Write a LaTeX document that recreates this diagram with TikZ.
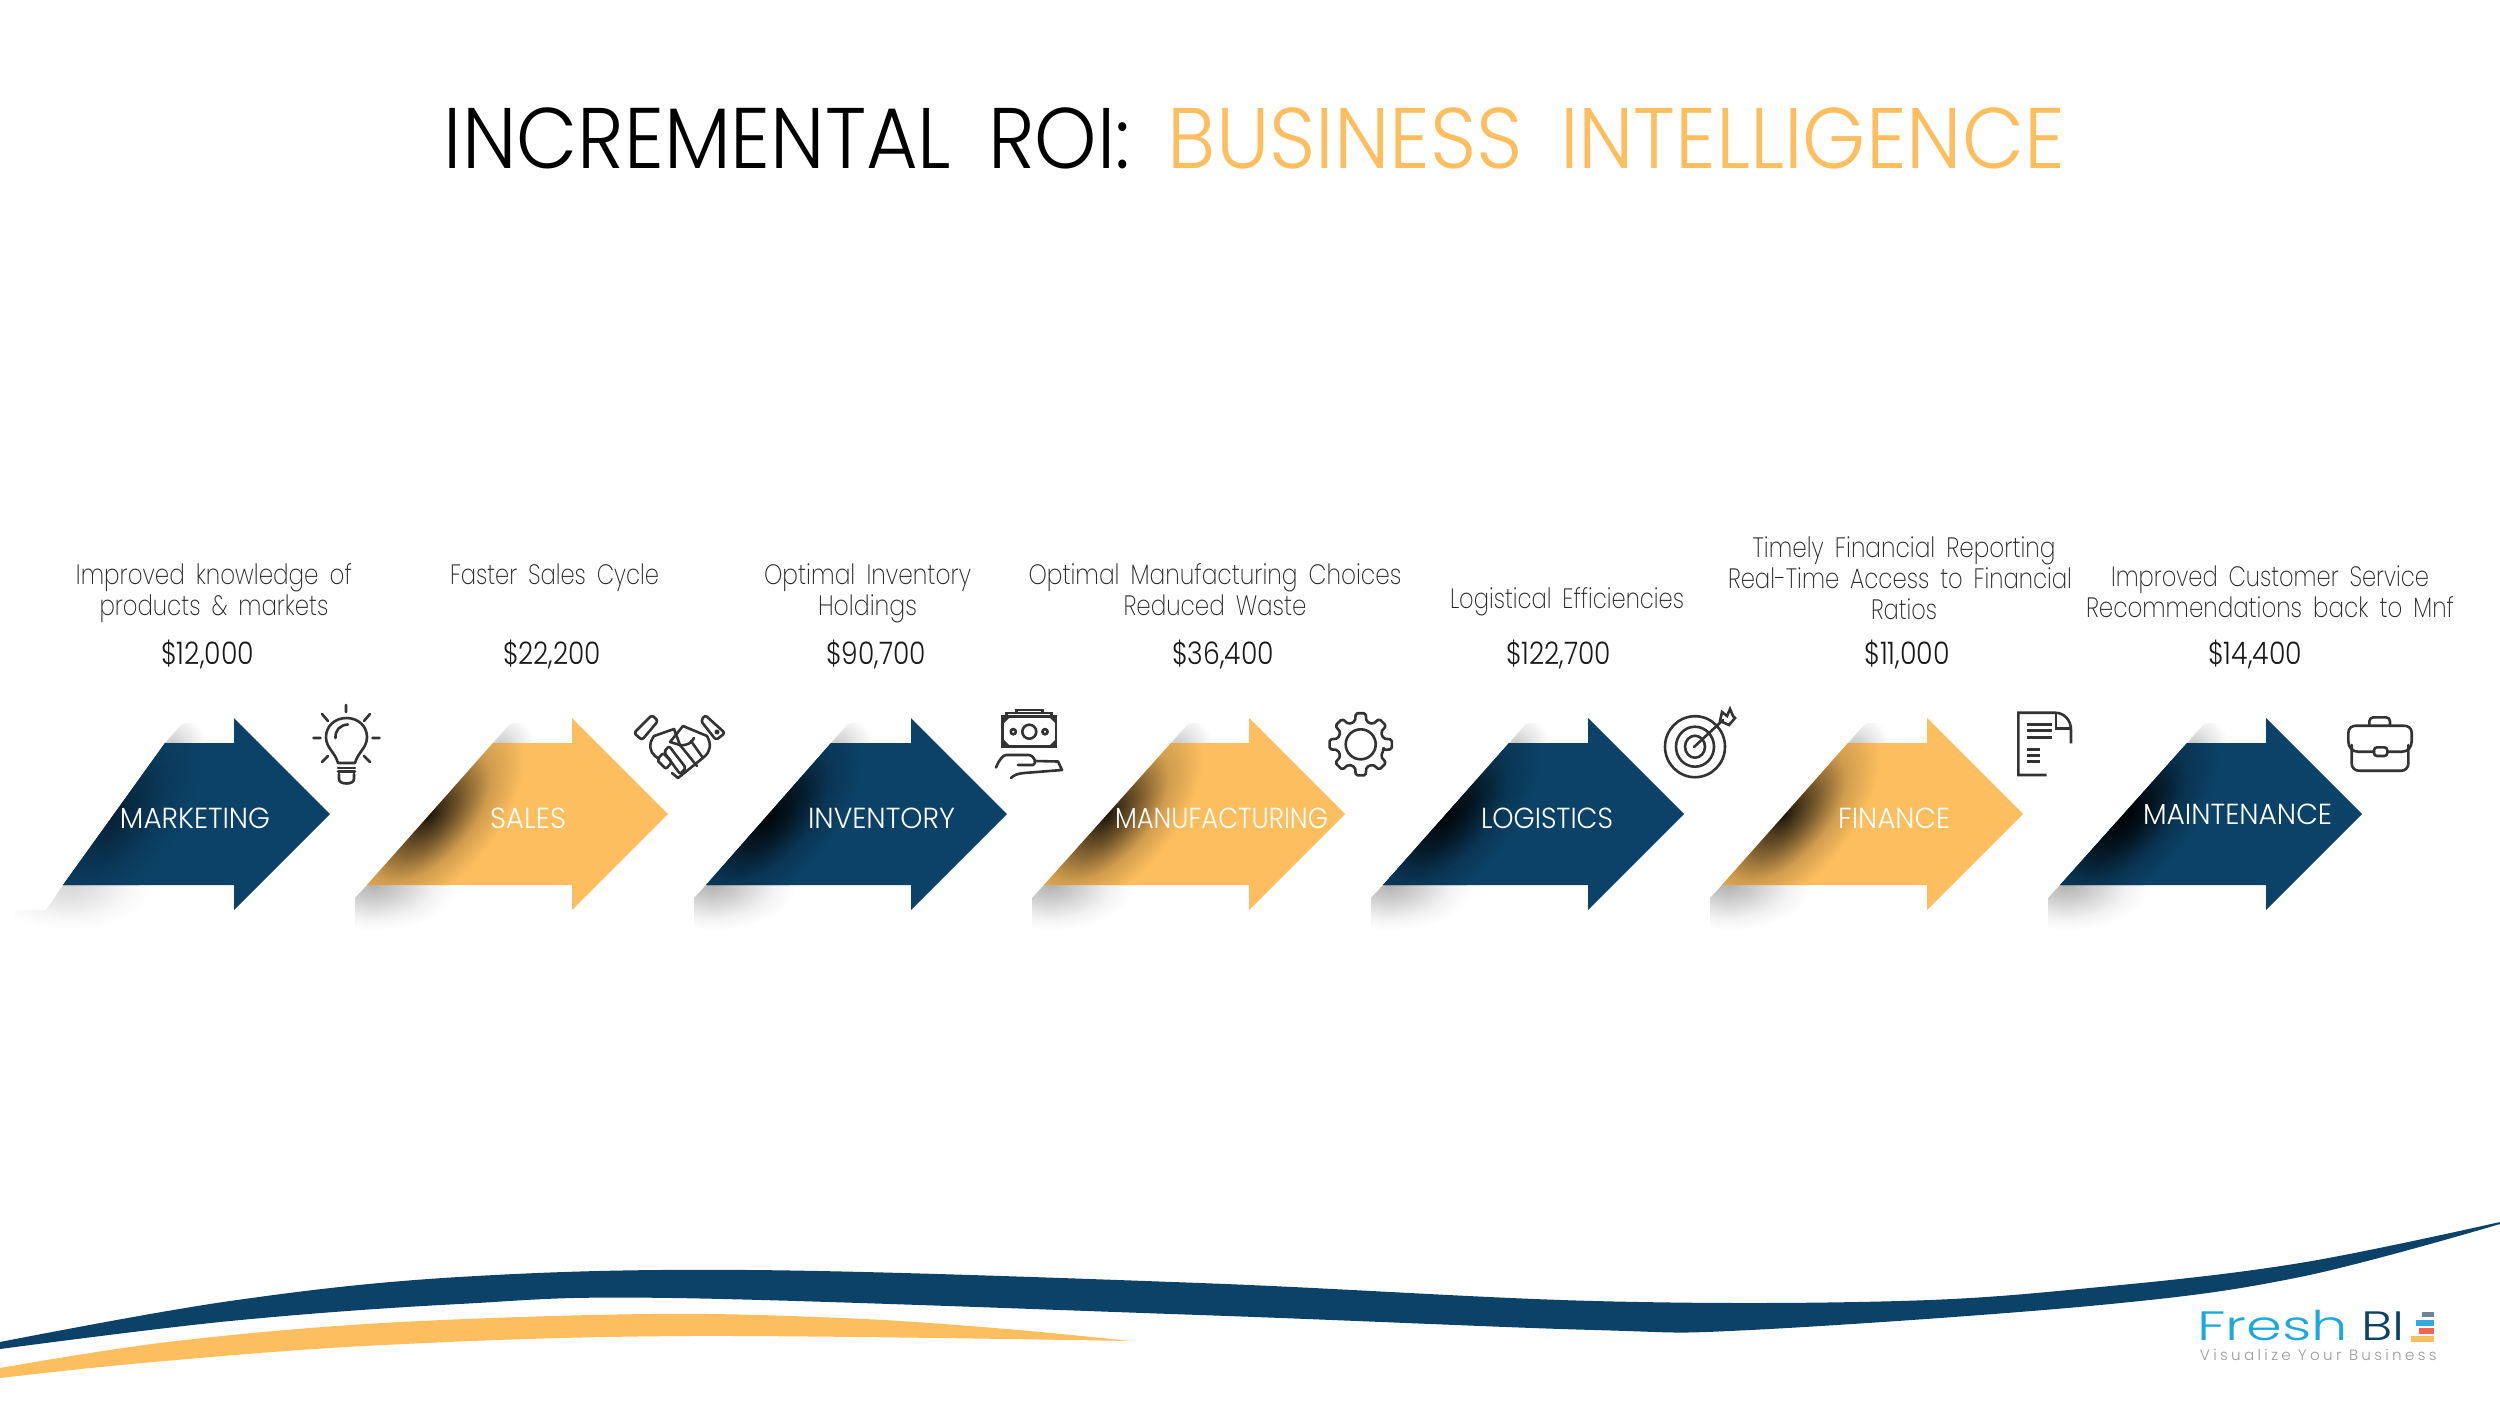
\documentclass[tikz,border=0pt]{standalone}
\usepackage{fontspec}
\usepackage{graphicx}
\newfontfamily\thinf[UprightFont=* ExtraLight,WordSpace=1.7]{Poppins}
\newfontfamily\lightf[UprightFont=* Light]{Poppins}
\newfontfamily\titlef[UprightFont=* Light,WordSpace=1.7]{Poppins}
\definecolor{navy}{HTML}{0C4268}
\definecolor{gold}{HTML}{FDBE5F}
\definecolor{ink}{HTML}{333333}
\definecolor{logoblue}{HTML}{1CA8DD}
\definecolor{tagc}{HTML}{9A9A9A}
\definecolor{slatec}{HTML}{6E8396}
\definecolor{barblue}{HTML}{31A9E0}
\definecolor{coral}{HTML}{F26350}
\newcommand\mkshade[5]{\pgfdeclareradialshading{#1}{\pgfpointorigin}{color(0bp)=(black!#3!#2); color(8bp)=(black!#4!#2); color(16bp)=(black!#5!#2); color(25bp)=(#2); color(50bp)=(#2)}}
\mkshade{navyW}{navy}{50}{30}{10}
\mkshade{navyS}{navy}{95}{62}{20}
\mkshade{navyX}{navy}{100}{70}{24}
\mkshade{goldS}{gold}{88}{55}{18}
\pgfdeclareradialshading{softgray}{\pgfpointorigin}{color(0bp)=(black!30); color(9bp)=(black!18); color(18bp)=(black!5); color(25bp)=(white); color(50bp)=(white)}
\pgfdeclareradialshading{softgrayW}{\pgfpointorigin}{color(0bp)=(black!16); color(9bp)=(black!10); color(18bp)=(black!3); color(25bp)=(white); color(50bp)=(white)}
\pgfdeclareradialshading{softtop}{\pgfpointorigin}{color(0bp)=(black!24); color(12bp)=(black!11); color(25bp)=(white); color(50bp)=(white)}
\newcommand\fl[2]{\resizebox{#1pt}{\height}{#2}}
% #1 BL x, #2 TL x, #3 notch x, #4 tip x, #5 fill, #6 shading, #7 left side of the lower shadow, #8 its shading
\newcommand\flowarrow[8]{%
  \pgfmathsetmacro\ang{atan2(142,#2-#1)}%
  \pgfmathsetmacro\ecx{#1+0.49*(#2-#1)}%
  \begin{scope}
    \clip (#2,743) -- (#2+16,725) .. controls (#2+18,723) and (#2+22,723) .. (#2+25,723) -- (#2+42,723) -- (#2+42,743) -- cycle;
    \shade[shading=softtop] (#2+6,748) circle (36pt);
  \end{scope}
  \begin{scope}
    \clip (#1,885) -- #7 -- (#1+110,932) -- (#1+110,885) -- cycle;
    \shade[shading=#8] (#1+6,885) ellipse (84pt and 46pt);
  \end{scope}
  \fill[#5] (#1,885) -- (#2,743) -- (#3,743) -- (#3,718) -- (#4,814) -- (#3,910) -- (#3,885) -- cycle;
  \begin{scope}
    \clip (#1,885) -- (#2,743) -- (#3,743) -- (#3,718) -- (#4,814) -- (#3,910) -- (#3,885) -- cycle;
    \begin{scope}[transform canvas={shift={(\ecx,815)},rotate=\ang}]
      \shade[shading=#6] (0,0) ellipse (125pt and 66pt);
    \end{scope}
  \end{scope}
}
\newcommand\stdside[1]{(#1-12,898) -- (#1-12,932)}
\tikzset{
  body/.style={font=\thinf\fontsize{28}{31}\selectfont, text=black!85, align=center, inner sep=0pt, anchor=base},
  price/.style={font=\lightf\fontsize{31}{34}\selectfont, text=black!90, inner sep=0pt, anchor=base},
  lab/.style={font=\lightf\fontsize{29}{32}\selectfont, text=white, inner sep=0pt, anchor=base},
  icon/.style={draw=ink, line width=2.6pt, line cap=round, line join=round},
}
\begin{document}
\begin{tikzpicture}[x=1pt,y=-1pt]
\useasboundingbox (0,0) rectangle (2500,1406);
\fill[white] (0,0) rectangle (2500,1406);
% title
\node[inner sep=0pt, anchor=base, font=\titlef\fontsize{86}{90}\selectfont] (title) at (1254.5,168)
  {\fl{686}{INCREMENTAL ROI:}\hspace{38pt}\textcolor{gold}{\fl{897}{BUSINESS INTELLIGENCE}}};
% arrows
\flowarrow{63}{165}{234}{330}{navy}{navyW}{(46,910) -- (15,910) -- (15,932)}{softgrayW}
\flowarrow{367}{493}{572}{668}{gold}{goldS}{(355,898) -- (355,932)}{softgray}
\flowarrow{706}{831}{911}{1007}{navy}{navyS}{(694,898) -- (694,932)}{softgray}
\flowarrow{1044}{1171}{1249}{1345}{gold}{goldS}{(1032,898) -- (1032,932)}{softgray}
\flowarrow{1383}{1509}{1588}{1684}{navy}{navyS}{(1371,898) -- (1371,932)}{softgray}
\flowarrow{1722}{1848}{1927}{2023}{gold}{goldS}{(1710,898) -- (1710,932)}{softgray}
\flowarrow{2060}{2187}{2266}{2362}{navy}{navyX}{(2048,898) -- (2048,932)}{softgray}
% arrow labels
\node[lab] (l1) at (195,828) {\fl{150}{MARKETING}};
\node[lab] (l2) at (528,828) {\fl{76}{SALES}};
\node[lab] (l3) at (881.5,828) {\fl{147}{INVENTORY}};
\node[lab] (l4) at (1221.5,828) {\fl{213}{MANUFACTURING}};
\node[lab] (l5) at (1547,828) {\fl{132}{LOGISTICS}};
\node[lab] (l6) at (1894,828) {\fl{112}{FINANCE}};
\node[lab] (l7) at (2237.5,824) {\fl{189}{MAINTENANCE}};
% descriptions
\node[body] (d1) at (214,615) {\fl{276}{Improved knowledge of}\\\fl{229}{products \& markets}};
\node[body] (d2) at (554.5,584) {\fl{209}{Faster Sales Cycle}};
\node[body] (d3) at (867.5,615) {\fl{207}{Optimal Inventory}\\\fl{99}{Holdings}};
\node[body] (d4) at (1215,615) {\fl{373}{Optimal Manufacturing Choices}\\\fl{183}{Reduced Waste}};
\node[body] (d5) at (1567,608) {\fl{234}{Logistical Efficiencies}};
\node[body] (d6) at (1904,619) {\fl{303}{Timely Financial Reporting}\\\hspace*{-8pt}\fl{344}{Real-Time Access to Financial}\\\fl{66}{Ratios}};
\node[body] (d7) at (2270,617) {\fl{318}{Improved Customer Service}\\\fl{368}{Recommendations back to Mnf}};
% prices
\node[price] (p1) at (207.5,664) {\fl{93}{\$12,000}};
\node[price] (p2) at (552,664) {\fl{98}{\$22,200}};
\node[price] (p3) at (876,664) {\fl{100}{\$90,700}};
\node[price] (p4) at (1223,664) {\fl{102}{\$36,400}};
\node[price] (p5) at (1558.5,664) {\fl{105}{\$122,700}};
\node[price] (p6) at (1907,664) {\fl{86}{\$11,000}};
\node[price] (p7) at (2255,664) {\fl{94}{\$14,400}};
% bulb
\draw[icon] (338,763) .. controls (335,752) and (326,748) .. (326,737) .. controls (326,726) and (335,718) .. (346.5,718) .. controls (358,718) and (367,726) .. (367,737) .. controls (367,748) and (358,752) .. (355,763) -- cycle;
\draw[icon] (335.5,738) .. controls (335,730) and (340,725) .. (348,724.5);
\draw[icon] (338,768) -- (355,768) (338,771.5) -- (355,771.5);
\draw[icon] (339,774) -- (339,779) .. controls (339,785) and (354,785) .. (354,779) -- (354,774);
\draw[icon] (346,705) -- (346,712) (313.5,738) -- (320.5,738) (372.5,738) -- (379.5,738)
  (322,714) -- (328,721) (370,714) -- (364,721) (322,762) -- (328,756) (370,762) -- (364,756);
% handshake
\draw[icon, rounded corners=2.5pt] (652,715) -- (658,721) -- (642,740) -- (634,733) -- cycle;
\draw[icon, rounded corners=2.5pt] (705,715) -- (701,721) -- (716,740) -- (725,733) -- cycle;
\draw[icon] (674,729) -- (654,736) .. controls (648,744) and (650,752) .. (655,756) -- (659,759);
\draw[icon] (683,726) -- (707,736) .. controls (712,745) and (710,752) .. (704,757) -- (678,778) -- (672,773);
\draw[icon] (683,726) -- (670,742) -- (680,745) -- (674,729);
\draw[icon] (680,745) .. controls (688,746) and (692,742) .. (694,738);
\draw[icon, rounded corners=2pt] (657,760) -- (663,753) -- (672,762) -- (666,769) -- cycle;
\draw[icon, rounded corners=2pt] (664,752) -- (669,746) -- (686,768) -- (680,774) -- cycle;
\draw[icon] (680,745) -- (697,766) (691,741) -- (703,758);
\draw[icon] (717,732) circle (1.5pt);
% money
\draw[icon, line cap=butt, line join=miter] (1002.7,716.7) rectangle (1056,746.7);
\draw[icon, line cap=butt, line join=miter] (1006.7,716) -- (1006.7,713) -- (1051.7,713) -- (1051.7,716);
\draw[icon, line cap=butt, line join=miter] (1016.7,713) -- (1016.7,710) -- (1042.7,710) -- (1042.7,713);
\draw[icon] (1029.3,731.7) circle (7pt) (1013.3,731.7) circle (2.6pt) (1045,731.7) circle (2.6pt);
\fill[ink] (1003,717) -- (1010,717) -- (1003,724) -- cycle (1056,717) -- (1049,717) -- (1056,724) -- cycle
  (1003,746) -- (1010,746) -- (1003,739) -- cycle (1056,746) -- (1049,746) -- (1056,739) -- cycle;
\draw[icon] (996,767.5) .. controls (999,760) and (1003,755) .. (1006,755) -- (1028,755) .. controls (1035,755) and (1037,764) .. (1033,765) -- (1018,765);
\draw[icon] (1035,761) -- (1058,761.5) -- (1062,770) -- (1024,773) .. controls (1018,773.5) and (1014,775) .. (1011,778);
% gear
\begin{scope}[shift={(1360.7,744.3)}]
\draw[icon, rounded corners=1.8pt] (-14:23.5pt) \foreach \a in {0,45,...,315} { -- (\a-14:23.5pt) -- (\a-9:31.5pt) -- (\a+9:31.5pt) -- (\a+14:23.5pt) } -- cycle;
\draw[icon] (0,0) circle (15pt);
\end{scope}
% target
\draw[icon] (1695,746.7) ellipse (30pt and 30.5pt) (1695,746.7) ellipse (19pt and 20pt) (1695,746.7) ellipse (10pt and 11pt);
\draw[icon] (1694,747) -- (1723,720);
\draw[icon, line join=miter] (1720,721) -- (1722,712) -- (1727,716) -- (1730,709) -- (1733,716) -- (1735,718) -- (1729,725) -- cycle;
% document
\draw[icon, line cap=butt, line join=miter] (2071,743.3) -- (2071,730) .. controls (2071,720) and (2064,712.7) .. (2055,712.7) -- (2018.3,712.7) -- (2018.3,775) -- (2046.7,775);
\draw[icon, line cap=butt, line join=miter] (2056,713) -- (2056,728.3) -- (2071,728.3);
\draw[icon, line cap=butt, line width=3pt] (2026.7,724.3) -- (2051.7,724.3) (2026.7,730.7) -- (2051.7,730.7) (2026.7,737) -- (2051.7,737)
  (2026.7,749.3) -- (2040,749.3) (2026.7,755.3) -- (2040,755.3) (2026.7,761.7) -- (2040,761.7);
% briefcase
\draw[icon, rounded corners=7pt] (2351.7,745) -- (2351.7,770.7) -- (2408.3,770.7) -- (2408.3,745);
\draw[icon] (2374,751.7) -- (2358,751.7) .. controls (2352,751.7) and (2348.3,747) .. (2348.3,741) -- (2348.3,733) .. controls (2348.3,728) and (2352,725.7) .. (2356,725.7) -- (2404,725.7) .. controls (2408,725.7) and (2411.7,728) .. (2411.7,733) -- (2411.7,741) .. controls (2411.7,747) and (2408,751.7) .. (2402,751.7) -- (2387.3,751.7);
\draw[icon, rounded corners=4pt] (2369.3,725.7) -- (2369.3,717.3) -- (2390,717.3) -- (2390,725.7);
\draw[icon, rounded corners=3pt] (2374,747.3) rectangle (2387.3,756);
% swooshes
\fill[navy] plot[smooth, tension=0.6] coordinates {(0,1342) (230,1301) (459,1277) (750,1270) (1200,1283) (1594,1301) (1900,1301) (2100,1287) (2300,1263) (2500,1222)}
  -- plot[smooth, tension=0.6] coordinates {(2500,1224) (2300,1277) (2100,1305) (1750,1330) (1594,1330) (1200,1315) (673,1298) (459,1304) (230,1321) (0,1349)} -- cycle;
\fill[gold] plot[smooth, tension=0.6] coordinates {(0,1368) (168,1342) (383,1323) (650,1314) (842,1318) (995,1328) (1131,1341)}
  -- plot[smooth, tension=0.6] coordinates {(1131,1341) (689,1336) (383,1345) (153,1362) (0,1378)} -- cycle;
% logo
\node[inner sep=0pt, anchor=base, text=logoblue, font=\lightf\fontsize{41}{44}\selectfont] (fresh) at (2272.5,1340.7) {\fl{151}{Fresh}};
\node[inner sep=0pt, anchor=base, text=navy, font=\lightf\fontsize{41}{44}\selectfont] (bi) at (2383.3,1340.7) {\fl{43.3}{BI}};
\fill[slatec] (2421.7,1312.3) rectangle (2434.3,1317.3);
\fill[barblue] (2416,1320) rectangle (2434.3,1326);
\fill[coral] (2419.3,1327.7) rectangle (2434.3,1334);
\fill[gold] (2411,1335.7) rectangle (2434.3,1342.3);
\node[inner sep=0pt, anchor=base, text=tagc, font=\lightf\fontsize{15}{18}\selectfont] (tag) at (2318.3,1360.7) {\fl{236.7}{\addfontfeature{LetterSpace=22}Visualize Your Business}};
\end{tikzpicture}
\end{document}
